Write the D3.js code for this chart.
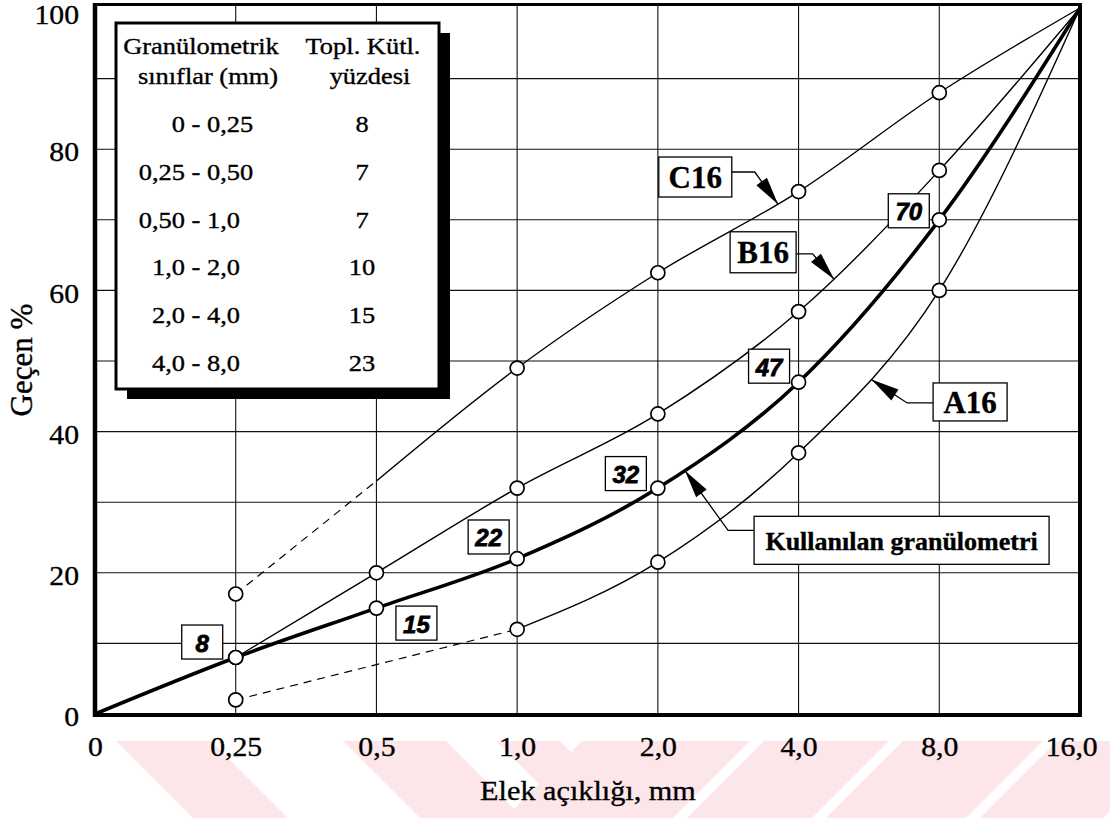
<!DOCTYPE html>
<html>
<head>
<meta charset="utf-8">
<script src="https://cdn.jsdelivr.net/npm/d3@7"></script>
<style>
  html, body { margin: 0; padding: 0; background: #fff; }
  svg { display: block; }
  svg text { stroke: #000; stroke-width: 0.35px; }
</style>
</head>
<body>
<svg id="chart" width="1110" height="818"></svg>
<script>
// ---- data -------------------------------------------------------------
// sieve openings (mm) and the labels printed under the axis
const sieveSizes = [0, 0.25, 0.5, 1, 2, 4, 8, 16];
const sieveLabels = ["0", "0,25", "0,5", "1,0", "2,0", "4,0", "8,0", "16,0"];
const yTicks = [0, 20, 40, 60, 80, 100];

// cumulative passing (%) per sieve; null = no reading on that sieve
const usedPassing = [0, 8, 15, 22, 32, 47, 70, 100];
const a16Passing  = [null, 2, null, 12, 21.5, 37, 60, 100];
const b16Passing  = [null, 8, 20, 32, 42.5, 57, 77, 100];
const c16Passing  = [null, 17, null, 49, 62.5, 74, 88, 100];

// grading table
const tableHead1 = ["Granülometrik", "sınıflar (mm)"];
const tableHead2 = ["Topl. Kütl.", "yüzdesi"];
const classRanges = [["0", "0,25"], ["0,25", "0,50"], ["0,50", "1,0"],
                     ["1,0", "2,0"], ["2,0", "4,0"], ["4,0", "8,0"]];
const classShares = [8, 7, 7, 10, 15, 23];

// ---- setup ------------------------------------------------------------
const SERIF = "'Liberation Serif', 'Times New Roman', serif";
const SANS = "'Liberation Sans', Arial, sans-serif";
const M = { left: 95, right: 1080, top: 8, bottom: 714 };
const svg = d3.select("#chart");

const x = d3.scaleLinear().domain([0, sieveSizes.length - 1]).range([M.left, M.right]);
const y = d3.scaleLinear().domain([0, 100]).range([M.bottom, M.top]);

// faint diagonal watermark bands behind the axis title
const wmBands = [
  [116, 211, 1], [343, 446, 1], [496, 560, 1],
  [582, 750, -1], [764, 889, -1], [903, 1043, -1], [1057, 1180, -1]
];
const wmTop = 741, wmBot = 818, wmShift = 77;
svg.append("g").attr("fill", "#fde6ea")
  .selectAll("polygon").data(wmBands).join("polygon")
  .attr("points", d => {
    const s = d[2] * wmShift;
    return [[d[0], wmTop], [d[1], wmTop], [d[1] + s, wmBot], [d[0] + s, wmBot]].join(" ");
  });

// ---- grid -------------------------------------------------------------
const grid = svg.append("g").attr("stroke", "#111").attr("stroke-width", 1.1);
grid.selectAll("line.h").data(d3.range(10, 100, 10)).join("line")
  .attr("class", "h")
  .attr("x1", x(0)).attr("x2", x(sieveSizes.length - 1))
  .attr("y1", d => y(d)).attr("y2", d => y(d));
grid.selectAll("line.v").data(d3.range(1, sieveSizes.length - 1)).join("line")
  .attr("class", "v")
  .attr("x1", d => x(d)).attr("x2", d => x(d))
  .attr("y1", y(0)).attr("y2", y(100) - 3);

// ---- axes -------------------------------------------------------------
const xAxis = d3.axisBottom(x)
  .tickValues(d3.range(sieveLabels.length))
  .tickFormat(i => sieveLabels[i])
  .tickSize(0).tickPadding(23);
const gx = svg.append("g").attr("transform", `translate(0,${M.bottom})`).call(xAxis);
gx.select(".domain").remove();
gx.selectAll("text")
  .attr("font-family", SERIF).attr("font-size", 27).attr("fill", "#000")
  .attr("transform", "scale(1.1,1)");
gx.selectAll(".tick").filter((d, i, n) => i === n.length - 1).select("text").attr("dx", -8);

const yAxis = d3.axisLeft(y).tickValues(yTicks).tickSize(0).tickPadding(14.5);
const gy = svg.append("g").attr("transform", `translate(${M.left},0)`).call(yAxis);
gy.select(".domain").remove();
gy.selectAll("text")
  .attr("font-family", SERIF).attr("font-size", 27).attr("fill", "#000")
  .attr("dy", d => d === 100 ? "0.56em" : "0.43em")
  .attr("transform", "scale(1.1,1)");

svg.append("text")
  .attr("transform", `translate(32,360) rotate(-90)`)
  .attr("text-anchor", "middle")
  .attr("font-family", SERIF).attr("font-size", 31)
  .text("Geçen %");

svg.append("g").attr("transform", "translate(588,800) scale(1.12,1)")
  .append("text")
  .attr("text-anchor", "middle")
  .attr("font-family", SERIF).attr("font-size", 27)
  .text("Elek açıklığı, mm");

// ---- curves -----------------------------------------------------------
function readings(values) {
  return values.map((v, i) => ({ i, v })).filter(d => d.v != null);
}
function valueAt(values, t) {
  const pts = readings(values);
  for (let k = 0; k < pts.length - 1; k++) {
    const a = pts[k], b = pts[k + 1];
    if (t >= a.i && t <= b.i) return a.v + (b.v - a.v) * (t - a.i) / (b.i - a.i);
  }
  return null;
}

const series = [
  { key: "A16", values: a16Passing, width: 1.4, dashedTo: 3 },
  { key: "B16", values: b16Passing, width: 1.4, dashedTo: null },
  { key: "C16", values: c16Passing, width: 1.4, dashedTo: 2 },
  { key: "used", values: usedPassing, width: 3.6, dashedTo: null }
];

const smooth = d3.line().x(d => x(d.i)).y(d => y(d.v)).curve(d3.curveMonotoneX);
const straight = d3.line().x(d => x(d.i)).y(d => y(d.v));
const linesG = svg.append("g").attr("fill", "none").attr("stroke", "#000");
const pathNodes = {};

series.forEach(s => {
  const pts = readings(s.values);
  let solid = pts;
  if (s.dashedTo != null) {
    const split = { i: s.dashedTo, v: valueAt(s.values, s.dashedTo) };
    linesG.append("path")
      .attr("d", straight([pts[0], split]))
      .attr("stroke-width", 1.2)
      .attr("stroke-dasharray", "8,6");
    solid = [split].concat(pts.filter(p => p.i > s.dashedTo));
  }
  pathNodes[s.key] = linesG.append("path")
    .attr("d", smooth(solid))
    .attr("stroke-width", s.width)
    .attr("stroke-linejoin", "round")
    .node();
});

// ---- plot frame -------------------------------------------------------
const frame = svg.append("g").attr("stroke", "#000").attr("fill", "none");
frame.append("line").attr("x1", M.left).attr("x2", M.right + 2).attr("y1", 4.5).attr("y2", 4.5).attr("stroke-width", 3);
frame.append("line").attr("x1", M.right).attr("x2", M.right).attr("y1", 3).attr("y2", M.bottom + 3).attr("stroke-width", 4);
frame.append("line").attr("x1", M.left).attr("x2", M.left).attr("y1", 3).attr("y2", M.bottom + 3).attr("stroke-width", 4.5);
frame.append("line").attr("x1", M.left - 2).attr("x2", M.right + 2).attr("y1", M.bottom + 1).attr("y2", M.bottom + 1).attr("stroke-width", 4.2);

// ---- reading markers --------------------------------------------------
const markers = [];
series.forEach(s => readings(s.values)
  .filter(p => p.i > 0 && p.i < sieveSizes.length - 1)
  .forEach(p => markers.push(p)));
svg.append("g").selectAll("circle").data(markers).join("circle")
  .attr("cx", d => x(d.i)).attr("cy", d => y(d.v)).attr("r", 7)
  .attr("fill", "#fff").attr("stroke", "#000").attr("stroke-width", 1.7);

// ---- value boxes on the used grading ----------------------------------
const usedBoxOffsets = [[-33.5, -15.5], [40, 15], [-28.5, -21.7], [-32, -14.5], [-29.5, -16], [-30.5, -9]];
const usedBoxes = readings(usedPassing)
  .filter(p => p.i > 0 && p.i < sieveSizes.length - 1)
  .map((p, k) => ({ p, off: usedBoxOffsets[k] }));
const vb = svg.append("g").selectAll("g").data(usedBoxes).join("g")
  .attr("transform", d => `translate(${x(d.p.i) + d.off[0]},${y(d.p.v) + d.off[1]})`);
vb.append("rect").attr("x", -20.5).attr("y", -17).attr("width", 41).attr("height", 34)
  .attr("fill", "#fff").attr("stroke", "#000").attr("stroke-width", 1.3);
vb.append("text").attr("text-anchor", "middle").attr("y", 9.5)
  .attr("font-family", SANS).attr("font-weight", "bold").attr("font-style", "italic")
  .attr("font-size", 24).style("stroke-width", "0.8px").text(d => d.p.v);

// ---- curve callouts ---------------------------------------------------
function pointAtX(node, px) {
  let lo = 0, hi = node.getTotalLength();
  for (let k = 0; k < 40; k++) {
    const mid = (lo + hi) / 2;
    if (node.getPointAtLength(mid).x < px) lo = mid; else hi = mid;
  }
  return node.getPointAtLength((lo + hi) / 2);
}

const callouts = [
  { key: "C16", text: "C16", tip: 4.854, at: [4.266, 76.06], w: 73, h: 40, side: 1, leaderDy: -5, elbow: 23, size: 31 },
  { key: "B16", text: "B16", tip: 5.252, at: [4.748, 65.4], w: 66, h: 41, side: 1, leaderDy: 1.5, elbow: 16.5, size: 31 },
  { key: "A16", text: "A16", tip: 5.518, at: [6.219, 44.2], w: 74, h: 38, side: -1, leaderDy: 1, elbow: 26, size: 31 },
  { key: "used", text: "Kullanılan granülometri", tip: 4.193, at: [5.732, 24.6], w: 295, h: 48, side: -1, leaderDy: -10, elbow: 26, size: 26 }
];

const cg = svg.append("g");
callouts.forEach(c => {
  const cx = x(c.at[0]), cy = y(c.at[1]);
  const tip = pointAtX(pathNodes[c.key], x(c.tip));
  const edgeX = cx + c.side * c.w / 2;
  const ly = cy + c.leaderDy;
  const ex = edgeX + c.side * c.elbow;
  // leader
  cg.append("path")
    .attr("d", `M${edgeX},${ly}L${ex},${ly}L${tip.x},${tip.y}`)
    .attr("fill", "none").attr("stroke", "#000").attr("stroke-width", 1.3);
  // arrow head
  const dx = tip.x - ex, dy = tip.y - ly, len = Math.hypot(dx, dy);
  const ux = dx / len, uy = dy / len, L = Math.min(28, len - 4), hw = 6.5;
  const bx = tip.x - ux * L, by = tip.y - uy * L;
  cg.append("polygon")
    .attr("points", [[tip.x, tip.y], [bx - uy * hw, by + ux * hw], [bx + uy * hw, by - ux * hw]].join(" "))
    .attr("fill", "#000");
  // box
  cg.append("rect")
    .attr("x", cx - c.w / 2).attr("y", cy - c.h / 2).attr("width", c.w).attr("height", c.h)
    .attr("fill", "#fff").attr("stroke", "#000").attr("stroke-width", 1.3);
  cg.append("text")
    .attr("x", cx).attr("y", cy + 0.36 * c.size)
    .attr("text-anchor", "middle")
    .attr("font-family", SERIF).attr("font-weight", "bold").attr("font-size", c.size)
    .text(c.text);
});

// ---- grading table ----------------------------------------------------
const tb = { x: 116, y: 23, w: 323, h: 366 };
const tg = svg.append("g");
tg.append("rect").attr("x", tb.x + 11).attr("y", tb.y + 10).attr("width", tb.w).attr("height", tb.h).attr("fill", "#000");
tg.append("rect").attr("x", tb.x).attr("y", tb.y).attr("width", tb.w).attr("height", tb.h)
  .attr("fill", "#fff").attr("stroke", "#000").attr("stroke-width", 3);

function stretched(px, py, str, anchor) {
  tg.append("g").attr("transform", `translate(${px},${py}) scale(1.15,1)`)
    .append("text").attr("text-anchor", anchor || "middle")
    .attr("font-family", SERIF).attr("font-size", 23).text(str);
}
const headBase = [54, 84];
tableHead1.forEach((t, k) => stretched(k === 0 ? 201 : 208, headBase[k], t));
tableHead2.forEach((t, k) => stretched(k === 0 ? 363 : 370, headBase[k], t));

const rowY = d3.scaleLinear().domain([0, 1]).range([132, 179.8]);
classRanges.forEach((r, k) => {
  const g = tg.append("g").attr("transform", `translate(196,${rowY(k)}) scale(1.15,1)`)
    .attr("font-family", SERIF).attr("font-size", 23);
  g.append("text").attr("x", -9.6).attr("text-anchor", "end").text(r[0]);
  g.append("text").attr("x", 0).attr("text-anchor", "middle").text("-");
  g.append("text").attr("x", 9.6).attr("text-anchor", "start").text(r[1]);
  stretched(362, rowY(k), String(classShares[k]));
});
</script>
</body>
</html>
